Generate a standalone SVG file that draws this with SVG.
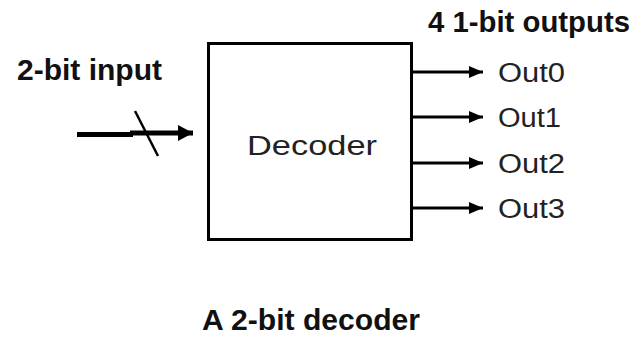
<svg xmlns="http://www.w3.org/2000/svg" width="635" height="337" viewBox="0 0 635 337">
<defs>
<style>
.bold{font-family:"Liberation Sans",Arial,sans-serif;font-weight:bold;fill:#111}
.reg{font-family:"Liberation Sans",Arial,sans-serif;fill:#222}
.wire{stroke:#000;stroke-width:3;fill:none}
</style>
<marker id="outArrow" markerUnits="userSpaceOnUse" markerWidth="16" markerHeight="12" refX="14" refY="6" orient="auto">
<path d="M0,0 L14,6 L0,12 Z" fill="#000"/>
</marker>
<marker id="inArrow" markerUnits="userSpaceOnUse" markerWidth="17" markerHeight="16" refX="15" refY="8" orient="auto">
<path d="M0,0 L15,8 L0,16 Z" fill="#000"/>
</marker>
</defs>
<rect width="635" height="337" fill="#fff"/>
<g id="title">
<text class="bold" x="202" y="330" font-size="29" textLength="218" lengthAdjust="spacingAndGlyphs">A 2-bit decoder</text>
</g>
<g id="input-label">
<text class="bold" x="17" y="80" font-size="29" textLength="145" lengthAdjust="spacingAndGlyphs">2-bit input</text>
</g>
<g id="outputs-label">
<text class="bold" x="428" y="32" font-size="29" textLength="202" lengthAdjust="spacingAndGlyphs">4 1-bit outputs</text>
</g>
<g id="decoder">
<rect x="208.5" y="43.5" width="203" height="196" fill="none" stroke="#000" stroke-width="3"/>
<text class="reg" x="247" y="155" font-size="27" textLength="130" lengthAdjust="spacingAndGlyphs">Decoder</text>
</g>
<g id="out0"><text class="reg" x="498" y="82" font-size="27" textLength="67" lengthAdjust="spacingAndGlyphs">Out0</text></g>
<g id="out1"><text class="reg" x="498" y="127" font-size="27" textLength="63" lengthAdjust="spacingAndGlyphs">Out1</text></g>
<g id="out2"><text class="reg" x="498" y="173" font-size="27" textLength="67" lengthAdjust="spacingAndGlyphs">Out2</text></g>
<g id="out3"><text class="reg" x="498" y="218" font-size="27" textLength="67" lengthAdjust="spacingAndGlyphs">Out3</text></g>
<g id="connectors">
<line x1="77" y1="134.5" x2="133" y2="134.5" stroke="#000" stroke-width="5"/>
<line x1="130" y1="133" x2="193" y2="133" stroke="#000" stroke-width="5" marker-end="url(#inArrow)"/>
<line x1="135" y1="111" x2="158" y2="156" stroke="#000" stroke-width="2.5"/>
<line class="wire" x1="412" y1="72" x2="483" y2="72" marker-end="url(#outArrow)"/>
<line class="wire" x1="412" y1="117" x2="483" y2="117" marker-end="url(#outArrow)"/>
<line class="wire" x1="412" y1="163" x2="483" y2="163" marker-end="url(#outArrow)"/>
<line class="wire" x1="412" y1="208" x2="483" y2="208" marker-end="url(#outArrow)"/>
</g>
</svg>
